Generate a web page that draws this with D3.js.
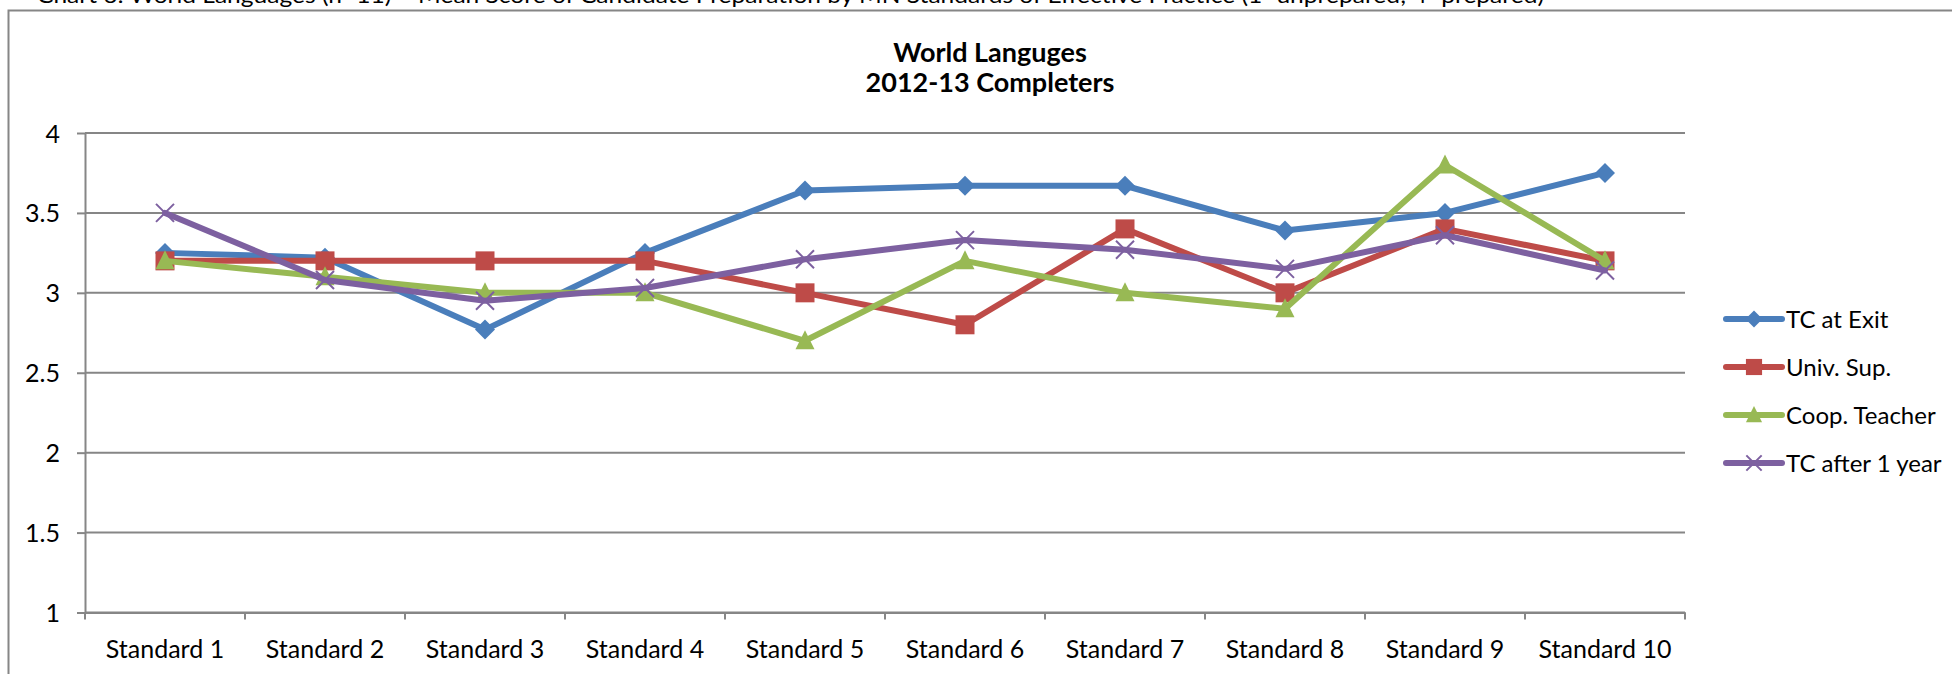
<!DOCTYPE html>
<html>
<head>
<meta charset="utf-8">
<script src="https://cdn.jsdelivr.net/npm/d3@7"></script>
<style>
  body { margin: 0; background: #fff; overflow: hidden; }
  text { font-family: Lato, "Open Sans", sans-serif; fill: #000; }
</style>
</head>
<body>
<div class="chart"></div>
<script>
// chart data
var categories = ["Standard 1", "Standard 2", "Standard 3", "Standard 4", "Standard 5",
                  "Standard 6", "Standard 7", "Standard 8", "Standard 9", "Standard 10"];
var seriesNames = ["TC at Exit", "Univ. Sup.", "Coop. Teacher", "TC after 1 year"];
var tcExit   = [3.25, 3.22, 2.77, 3.25, 3.64, 3.67, 3.67, 3.39, 3.5, 3.75];
var univSup  = [3.2, 3.2, 3.2, 3.2, 3.0, 2.8, 3.4, 3.0, 3.4, 3.2];
var coopTeach = [3.2, 3.1, 3.0, 3.0, 2.7, 3.2, 3.0, 2.9, 3.8, 3.2];
var tcAfter  = [3.5, 3.08, 2.95, 3.03, 3.21, 3.33, 3.27, 3.15, 3.36, 3.14];
var yTicks = [1, 1.5, 2, 2.5, 3, 3.5, 4];
var colors = ["#4a7ebb", "#be4b48", "#98b954", "#7d60a0"];
var markers = ["diamond", "square", "triangle", "cross"];
var caption = "Chart 6: World Languages (n=11) \u2013 Mean Score of Candidate Preparation by MN Standards of Effective Practice (1=unprepared; 4=prepared)";

var series = [tcExit, univSup, coopTeach, tcAfter].map(function(vals, i) {
  return { name: seriesNames[i], values: vals, color: colors[i], marker: markers[i] };
});

var svgWidth = 1952, svgHeight = 674;
var margin = { top: 133, left: 85 };
var width = 1600, height = 479.5;

var svg = d3.select(".chart").append("svg")
  .attr("width", svgWidth)
  .attr("height", svgHeight);

// outer frame + caption (caption is clipped by the page top, as in the source)
svg.append("rect")
  .attr("x", 8.5).attr("y", 10.5)
  .attr("width", 2000).attr("height", 800)
  .attr("fill", "none").attr("stroke", "#868686").attr("stroke-width", 2);

svg.append("text")
  .attr("x", 37).attr("y", 3)
  .attr("textLength", 1507)
  .attr("lengthAdjust", "spacingAndGlyphs")
  .style("font-size", "22px")
  .text(caption);

// title
var title = svg.append("text")
  .attr("text-anchor", "middle")
  .style("font-size", "27px")
  .style("font-weight", "bold");
title.append("tspan").attr("x", 990).attr("y", 62).text("World Languges");
title.append("tspan").attr("x", 990).attr("y", 92).text("2012-13 Completers");

var chart = svg.append("g")
  .attr("transform", "translate(" + margin.left + "," + margin.top + ")");

var xScale = d3.scaleBand().domain(categories).range([0, width]);
var yScale = d3.scaleLinear().domain([1, 4]).range([height, 0]);

// gridlines
chart.append("g")
  .selectAll("line")
  .data(yTicks)
  .enter()
  .append("line")
  .attr("x1", 0).attr("x2", width)
  .attr("y1", function(d) { return yScale(d); })
  .attr("y2", function(d) { return yScale(d); })
  .attr("stroke", "#868686").attr("stroke-width", 2);

// y axis
var leftAxis = d3.axisLeft(yScale)
  .tickValues(yTicks)
  .tickFormat(function(d) { return d; })
  .tickSize(8)
  .tickSizeOuter(0)
  .tickPadding(17);
var yAxis = chart.append("g").call(leftAxis);
yAxis.select(".domain").attr("stroke", "#868686").attr("stroke-width", 2);
yAxis.selectAll(".tick line").attr("stroke", "#868686").attr("stroke-width", 2);
yAxis.selectAll(".tick text")
  .attr("dy", "0.36em")
  .style("font-size", "25px")
  .style("font-family", "Lato, sans-serif")
  .attr("fill", "#000");

// x axis
var bottomAxis = d3.axisBottom(xScale).tickSize(0).tickSizeOuter(0).tickPadding(28);
var xAxis = chart.append("g")
  .attr("transform", "translate(0," + height + ")")
  .call(bottomAxis);
xAxis.select(".domain").attr("stroke", "#868686").attr("stroke-width", 2);
xAxis.selectAll(".tick text")
  .style("font-size", "25px")
  .style("font-family", "Lato, sans-serif")
  .attr("fill", "#000");

// category boundary ticks
var bounds = categories.map(function(c) { return xScale(c); }).concat([width]);
xAxis.selectAll(".bound")
  .data(bounds)
  .enter()
  .append("line")
  .attr("class", "bound")
  .attr("x1", function(d) { return d; })
  .attr("x2", function(d) { return d; })
  .attr("y1", 0).attr("y2", 7)
  .attr("stroke", "#868686").attr("stroke-width", 2);

function markerPath(type, s) {
  if (type === "diamond") return "M0," + (-s) + "L" + s + ",0L0," + s + "L" + (-s) + ",0Z";
  if (type === "square") return "M" + (-s * 0.95) + "," + (-s * 0.95) + "h" + (s * 1.9) + "v" + (s * 1.9) + "h" + (-s * 1.9) + "Z";
  if (type === "triangle") return "M0," + (-s * 1.05) + "L" + (s * 0.95) + "," + (s * 0.85) + "L" + (-s * 0.95) + "," + (s * 0.85) + "Z";
  return "M" + (-s * 0.9) + "," + (-s * 0.9) + "L" + (s * 0.9) + "," + (s * 0.9) + "M" + (-s * 0.9) + "," + (s * 0.9) + "L" + (s * 0.9) + "," + (-s * 0.9);
}

function drawMarker(sel, d, s) {
  var p = sel.append("path").attr("d", markerPath(d.marker, s));
  if (d.marker === "cross") {
    p.attr("fill", "none").attr("stroke", d.color).attr("stroke-width", 2);
  } else {
    p.attr("fill", d.color);
  }
}

var line = d3.line()
  .x(function(d, i) { return xScale(categories[i]) + xScale.bandwidth() / 2; })
  .y(function(d) { return yScale(d); });

series.forEach(function(s) {
  var g = chart.append("g");
  g.append("path")
    .attr("d", line(s.values))
    .attr("fill", "none")
    .attr("stroke", s.color)
    .attr("stroke-width", 6)
    .attr("stroke-linejoin", "round")
    .attr("stroke-linecap", "round");
  s.values.forEach(function(v, i) {
    var m = g.append("g")
      .attr("transform", "translate(" + (xScale(categories[i]) + xScale.bandwidth() / 2) + "," + yScale(v) + ")");
    drawMarker(m, s, 10);
  });
});

// legend
var legend = svg.append("g").attr("transform", "translate(1726,319)");
series.forEach(function(s, i) {
  var row = legend.append("g").attr("transform", "translate(0," + (i * 48) + ")");
  row.append("line")
    .attr("x1", 0).attr("x2", 56)
    .attr("stroke", s.color).attr("stroke-width", 6)
    .attr("stroke-linecap", "round");
  var m = row.append("g").attr("transform", "translate(28,0)");
  drawMarker(m, s, 8.5);
  row.append("text")
    .attr("x", 60).attr("y", 8.5)
    .style("font-size", "24px")
    .text(s.name);
});
</script>
</body>
</html>
